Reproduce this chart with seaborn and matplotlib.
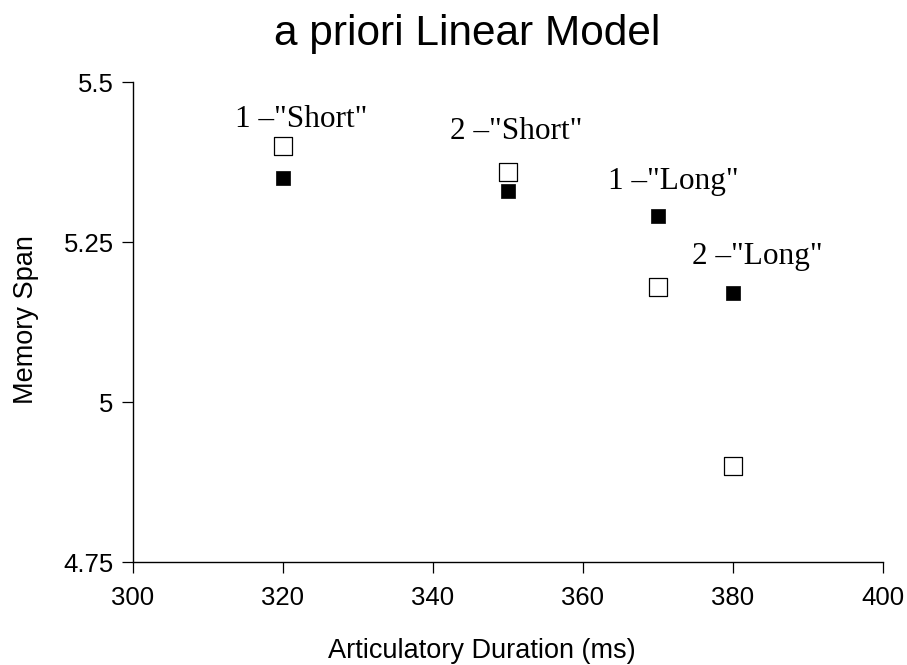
import matplotlib
matplotlib.use("Agg")
import matplotlib.pyplot as plt
import seaborn as sns
import pandas as pd
from matplotlib.ticker import FuncFormatter

# Observed vs predicted memory span by articulatory duration
durations = [320, 350, 370, 380]
observed_span = [5.40, 5.36, 5.18, 4.90]
predicted_span = [5.35, 5.33, 5.29, 5.17]
condition_labels = ['1 \u2013"Short"', '2 \u2013"Short"', '1 \u2013"Long"', '2 \u2013"Long"']
label_x = [322.4, 351.1, 372.1, 383.2]
label_y = [5.442, 5.422, 5.344, 5.228]

x_ticks = [300, 320, 340, 360, 380, 400]
y_ticks = [4.75, 5.0, 5.25, 5.5]

sns.set_theme(style="ticks")
plt.rcParams["font.family"] = ["Liberation Sans", "DejaVu Sans"]
plt.rcParams["text.color"] = "black"
plt.rcParams["axes.labelcolor"] = "black"

df = pd.DataFrame({"dur": durations, "obs": observed_span, "pred": predicted_span})

W, H = 907, 665
fig = plt.figure(figsize=(W / 100, H / 100), dpi=100)
ax = fig.add_axes([133 / W, 1 - 562 / H, (883 - 133) / W, (562 - 82) / H])

sns.scatterplot(data=df, x="dur", y="obs", marker="s", s=150,
                facecolor="white", edgecolor="black", linewidth=0.9, ax=ax, zorder=3)
sns.scatterplot(data=df, x="dur", y="pred", marker="s", s=88,
                color="black", edgecolor="black", linewidth=0.5, ax=ax, zorder=3)

for lx, ly, txt in zip(label_x, label_y, condition_labels):
    ax.text(lx, ly, txt, ha="center", va="center", fontsize=22.5,
            family=["Liberation Serif", "DejaVu Serif"])

ax.set_xlim(300, 400)
ax.set_ylim(4.75, 5.5)
ax.set_xticks(x_ticks)
ax.set_yticks(y_ticks)
ax.yaxis.set_major_formatter(FuncFormatter(lambda v, p: f"{v:g}"))
ax.tick_params(direction="out", length=8, width=0.9, labelsize=18.5,
               colors="black", labelcolor="black")
ax.tick_params(axis="x", pad=9)
ax.tick_params(axis="y", pad=6)
for side in ["top", "right"]:
    ax.spines[side].set_visible(False)
for side in ["left", "bottom"]:
    ax.spines[side].set_linewidth(1)
    ax.spines[side].set_color("black")

ax.set_xlabel("Articulatory Duration (ms)", fontsize=19.5)
ax.xaxis.set_label_coords((482 - 133) / 750, (562 - 638) / 480)
ax.set_ylabel("Memory Span", fontsize=19.5)
ax.yaxis.set_label_coords((39 - 133) / 750, (562 - 320) / 480)
ax.set_title("a priori Linear Model", fontsize=30.5, pad=27, x=(467 - 133) / 750)

fig.savefig("out.png", dpi=100)
